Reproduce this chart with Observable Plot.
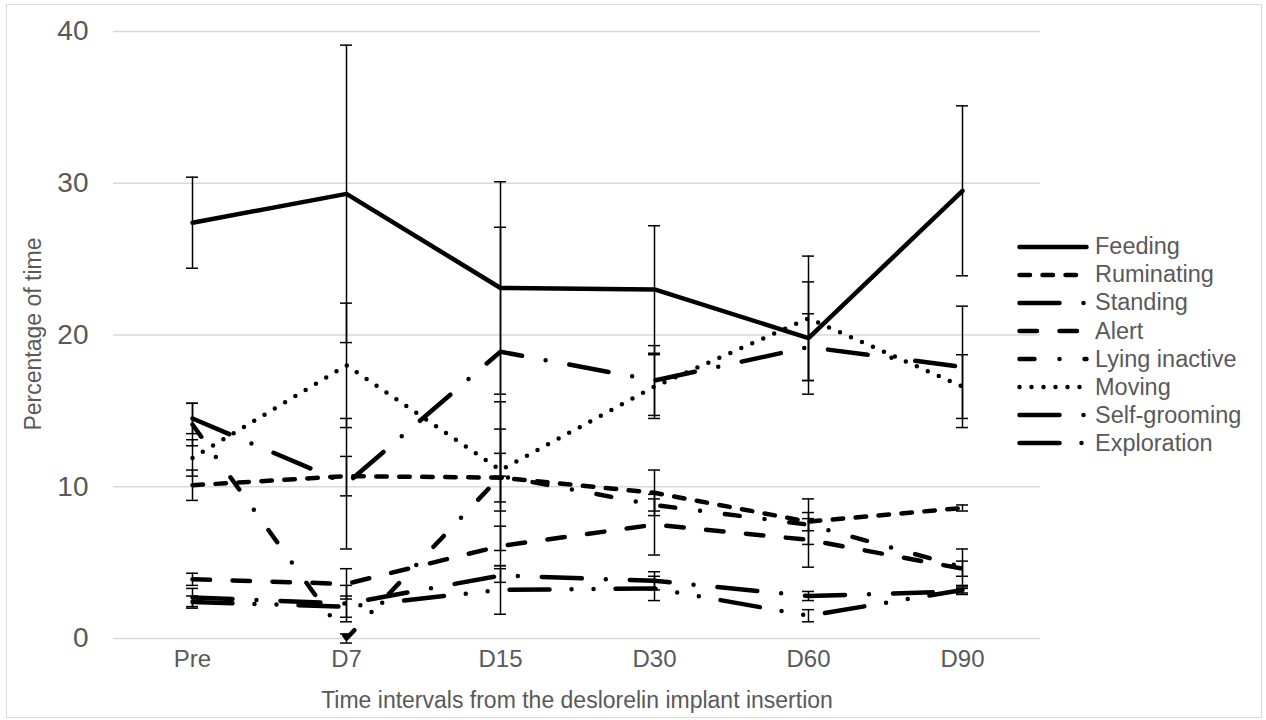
<!DOCTYPE html>
<html>
<head>
<meta charset="utf-8">
<script src="https://cdn.jsdelivr.net/npm/d3@7"></script>
<script src="https://cdn.jsdelivr.net/npm/@observablehq/plot@0.6"></script>
<style>
  body { margin: 0; background: #fff; font-family: "Liberation Sans", Arial, sans-serif; }
  #wrap { position: relative; width: 1266px; height: 720px; overflow: hidden; background: #fff; }
  #frame { position: absolute; left: 6px; top: 4px; width: 1256px; height: 714px; border: 1px solid #d9d9d9; box-sizing: border-box; }
  #chart { position: absolute; left: 0; top: 0; }
  .title { position: absolute; color: #595959; white-space: nowrap; font-size: 23px; }
  #ytitle { left: 33px; top: 334px; transform: translate(-50%, -50%) rotate(-90deg); }
  #xtitle { left: 577px; top: 700px; transform: translate(-50%, -50%); }
  .lg { position: absolute; left: 1017px; height: 28px; display: flex; align-items: center; color: #595959; font-size: 23.5px; white-space: nowrap; }
  .lg svg { margin-right: 6px; }
</style>
</head>
<body>
<div id="wrap">
  <div id="frame"></div>
  <div id="chart"></div>
  <div class="title" id="ytitle">Percentage of time</div>
  <div class="title" id="xtitle">Time intervals from the deslorelin implant insertion</div>
  <div id="legend"></div>
</div>
<script>
// ---- data ----
const times = ["Pre", "D7", "D15", "D30", "D60", "D90"];
const yTicks = [0, 10, 20, 30, 40];
const behaviours = ["Feeding", "Ruminating", "Standing", "Alert", "Lying inactive", "Moving", "Self-grooming", "Exploration"];

const feeding       = [27.4, 29.3, 23.1, 23.0, 19.8, 29.5];
const feedingErr    = [3.0, 9.8, 7.0, 4.2, 3.7, 5.6];
const ruminating    = [10.1, 10.7, 10.6, 9.6, 7.7, 8.6];
const ruminatingErr = [1.0, 1.3, 1.6, 1.5, 1.5, 0.2];
const standing      = [14.5, 10.2, 18.9, 17.0, 19.2, 17.9];
const standingErr   = [1.0, 4.3, 8.2, 2.3, 2.2, 4.0];
const alert         = [3.9, 3.6, 6.1, 7.5, 6.5, 4.6];
const alertErr      = [0.4, 1.0, 1.3, 2.0, 1.8, 0.5];
const lying         = [14.1, 0.0, 10.7, 8.8, 7.5, 4.7];
const lyingErr      = [1.4, 0.3, 4.9, 0.4, 0.4, 1.2];
const moving        = [11.9, 18.0, 11.1, 16.6, 21.1, 16.6];
const movingErr     = [1.2, 4.1, 2.7, 2.1, 4.1, 2.1];
const selfGrooming  = [2.7, 2.3, 4.15, 3.8, 2.8, 3.1];
const selfGroomErr  = [0.6, 1.2, 0.45, 0.6, 0.3, 0.2];
const exploration   = [2.4, 2.1, 3.2, 3.3, 1.5, 3.2];
const explorationErr= [0.4, 0.7, 1.6, 0.8, 0.4, 0.2];

// ---- styles (line dash patterns per behaviour) ----
const dashes = ["none", "10.5,12.5", "40,24,0,24", "17.5,22.5", "15,25,0,25", "0,12", "40,24,0,24", "40,22,0,22,0,22"];

// ---- table built from the arrays ----
const valueArrays = [feeding, ruminating, standing, alert, lying, moving, selfGrooming, exploration];
const errArrays = [feedingErr, ruminatingErr, standingErr, alertErr, lyingErr, movingErr, selfGroomErr, explorationErr];
const rows = [];
behaviours.forEach((b, k) => {
  times.forEach((t, i) => rows.push({behaviour: b, time: t, value: valueArrays[k][i], err: errArrays[k][i]}));
});

const lineMarks = behaviours.map((b, k) =>
  Plot.line(rows.filter(d => d.behaviour === b), {
    x: "time", y: "value", stroke: "black", strokeWidth: 4.5,
    strokeDasharray: dashes[k], strokeLinecap: "round", strokeLinejoin: "round"
  })
);

const chart = Plot.plot({
  width: 1266,
  height: 720,
  marginLeft: 113,
  marginRight: 226,
  marginTop: 31,
  marginBottom: 82,
  style: {fontFamily: '"Liberation Sans", Arial, sans-serif', background: "transparent"},
  x: {type: "point", domain: times, padding: 0.5, axis: null},
  y: {domain: [0, 40], axis: null},
  marks: [
    Plot.ruleY(yTicks, {stroke: "#d9d9d9", strokeWidth: 1.5}),
    Plot.text(yTicks, {y: d => d, text: d => String(d), frameAnchor: "left", dx: -25, textAnchor: "end", fontSize: 28, fill: "#595959"}),
    Plot.text(times, {x: d => d, text: d => d, frameAnchor: "bottom", dy: 28, fontSize: 24, fill: "#595959"}),
    ...lineMarks,
    Plot.ruleX(rows, {x: "time", y1: d => d.value - d.err, y2: d => d.value + d.err, stroke: "black", strokeWidth: 1.5}),
    Plot.ruleY(rows, {x1: "time", x2: "time", y: d => d.value + d.err, insetLeft: -6, insetRight: -6, stroke: "black", strokeWidth: 1.5}),
    Plot.ruleY(rows, {x1: "time", x2: "time", y: d => d.value - d.err, insetLeft: -6, insetRight: -6, stroke: "black", strokeWidth: 1.5})
  ]
});
document.getElementById("chart").appendChild(chart);

// ---- legend ----
const legend = document.getElementById("legend");
behaviours.forEach((b, k) => {
  const row = document.createElement("div");
  row.className = "lg";
  row.style.top = (246.7 + k * 28.1 - 14) + "px";
  const ns = "http://www.w3.org/2000/svg";
  const svg = document.createElementNS(ns, "svg");
  svg.setAttribute("width", 72);
  svg.setAttribute("height", 20);
  const ln = document.createElementNS(ns, "line");
  ln.setAttribute("x1", 2.5); ln.setAttribute("x2", 69.5);
  ln.setAttribute("y1", 10); ln.setAttribute("y2", 10);
  ln.setAttribute("stroke", "black");
  ln.setAttribute("stroke-width", 4.5);
  ln.setAttribute("stroke-linecap", "round");
  if (dashes[k] !== "none") ln.setAttribute("stroke-dasharray", dashes[k]);
  svg.appendChild(ln);
  row.appendChild(svg);
  const span = document.createElement("span");
  span.textContent = b;
  row.appendChild(span);
  legend.appendChild(row);
});
</script>
</body>
</html>
